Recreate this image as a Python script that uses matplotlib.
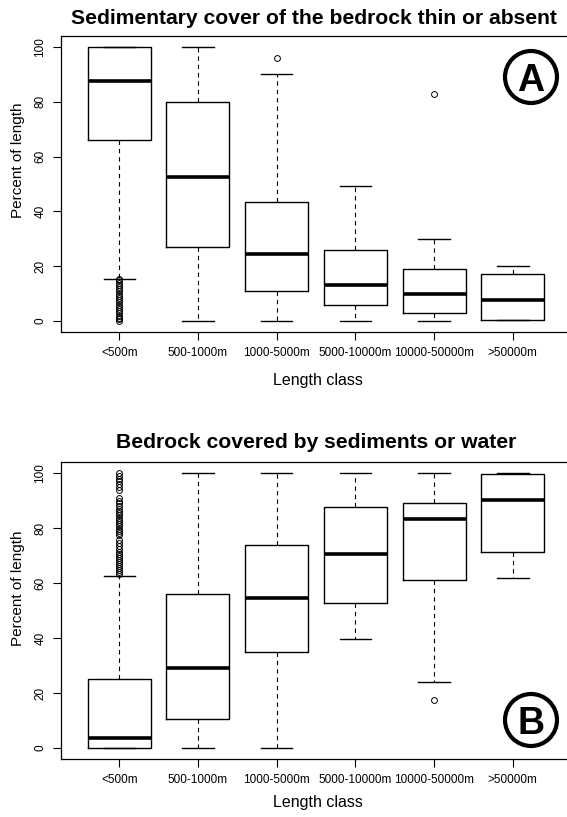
"""Two box plots of bedrock cover percent by length class (panels A and B)."""
import matplotlib
matplotlib.use("Agg")
import matplotlib.pyplot as plt
import matplotlib.patches as mpatches

plt.rcParams['font.family'] = ['Liberation Sans', 'DejaVu Sans']

classes = ["<500m", "500-1000m", "1000-5000m", "5000-10000m", "10000-50000m", ">50000m"]

# Panel A: sedimentary cover thin or absent (percent of length)
a_whislo = [15.5, 0, 0, 0, 0, 0.3]
a_q1 = [66, 27, 11, 5.7, 2.9, 0.4]
a_med = [87.5, 52.5, 24.5, 13, 9.7, 7.7]
a_q3 = [100, 80, 43.5, 25.9, 18.9, 17.1]
a_whishi = [100, 100, 90, 49.4, 30, 20.2]
a_fliers = [
    [0, 0.6, 1.2, 2, 2.8, 3.5, 4.3, 5, 6, 6.8, 7.5, 8.3, 9, 10, 10.8,
     11.7, 12.5, 13.3, 14, 14.8, 15.3],
    [],
    [96],
    [],
    [82.8],
    [],
]

# Panel B: bedrock covered by sediments or water
b_whislo = [0, 0, 0, 39.6, 24.1, 61.7]
b_q1 = [0, 10.5, 35, 52.7, 61.1, 71.3]
b_med = [3.5, 29, 54.7, 70.6, 83.4, 90.3]
b_q3 = [25, 56, 74, 87.5, 89.2, 99.6]
b_whishi = [62.7, 100, 100, 100, 100, 100]
b_fliers = [
    [63.3, 64, 64.7, 65.4, 66.1, 66.8, 67.5, 68.2, 69, 69.7, 70.5, 71.3,
     72.5, 73.5, 74.5, 75.5, 77.5, 78.3, 79, 79.8, 80.6, 81.4, 82.2, 83,
     83.8, 84.6, 85.4, 86.2, 87, 88, 89, 90, 91, 94, 95, 96, 97, 98,
     99, 100],
    [],
    [],
    [],
    [17.6],
    [],
]


def make_stats(lo, q1, med, q3, hi, fl):
    stats = []
    for i in range(len(classes)):
        stats.append(dict(whislo=lo[i], q1=q1[i], med=med[i], q3=q3[i],
                          whishi=hi[i], fliers=fl[i], label=classes[i]))
    return stats


def draw_panel(ax, stats):
    ax.bxp(stats, widths=0.8, capwidths=0.4,
           boxprops=dict(color="black", linewidth=1.0),
           medianprops=dict(color="black", linewidth=2.6, solid_capstyle="butt"),
           whiskerprops=dict(color="black", linewidth=0.8, linestyle=(0, (4, 3.5))),
           capprops=dict(color="black", linewidth=1.0),
           flierprops=dict(marker="o", markerfacecolor="none",
                           markeredgecolor="black", markersize=4.2,
                           markeredgewidth=0.7))
    ax.set_xlim(0.26, 6.74)
    ax.set_ylim(-4, 104)
    ax.set_yticks([0, 20, 40, 60, 80, 100])
    ax.set_yticklabels(["0", "20", "40", "60", "80", "100"], rotation=90,
                       va="center")
    ax.tick_params(axis="both", direction="out", length=5.5, width=0.8,
                   labelsize=8.5, pad=5)
    for s in ax.spines.values():
        s.set_linewidth(0.9)
    ax.set_xlabel("")
    ax.set_ylabel("")


fig = plt.figure(figsize=(5.67, 8.17), dpi=100)
W, H = 567, 817

ax1 = fig.add_axes([61 / W, 1 - 332 / H, 510 / W, 296 / H])
ax2 = fig.add_axes([61 / W, 1 - 759 / H, 510 / W, 297 / H])

draw_panel(ax1, make_stats(a_whislo, a_q1, a_med, a_q3, a_whishi, a_fliers))
draw_panel(ax2, make_stats(b_whislo, b_q1, b_med, b_q3, b_whishi, b_fliers))

# titles and axis labels
fig.text(314 / W, 1 - 18 / H, "Sedimentary cover of the bedrock thin or absent",
         ha="center", va="center", fontsize=15.2, fontweight="bold")
fig.text(316 / W, 1 - 442 / H, "Bedrock covered by sediments or water",
         ha="center", va="center", fontsize=15.2, fontweight="bold")
fig.text(18 / W, 1 - 160 / H, "Percent of length", rotation=90,
         ha="center", va="center", fontsize=11)
fig.text(18 / W, 1 - 588 / H, "Percent of length", rotation=90,
         ha="center", va="center", fontsize=11)
fig.text(318 / W, 1 - 381 / H, "Length class", ha="center", va="center",
         fontsize=11.5)
fig.text(318 / W, 1 - 803 / H, "Length class", ha="center", va="center",
         fontsize=11.5)

# circled panel letters
for letter, cy in [("A", 77), ("B", 720)]:
    circ = mpatches.Circle((531 / 100, (H - cy) / 100), 0.26,
                           transform=fig.dpi_scale_trans, facecolor="white",
                           edgecolor="black", linewidth=3)
    fig.add_artist(circ)
    fig.text(531 / W, 1 - cy / H, letter, ha="center", va="center_baseline",
             fontsize=27, fontweight="bold")

fig.savefig("out.png", dpi=100)
